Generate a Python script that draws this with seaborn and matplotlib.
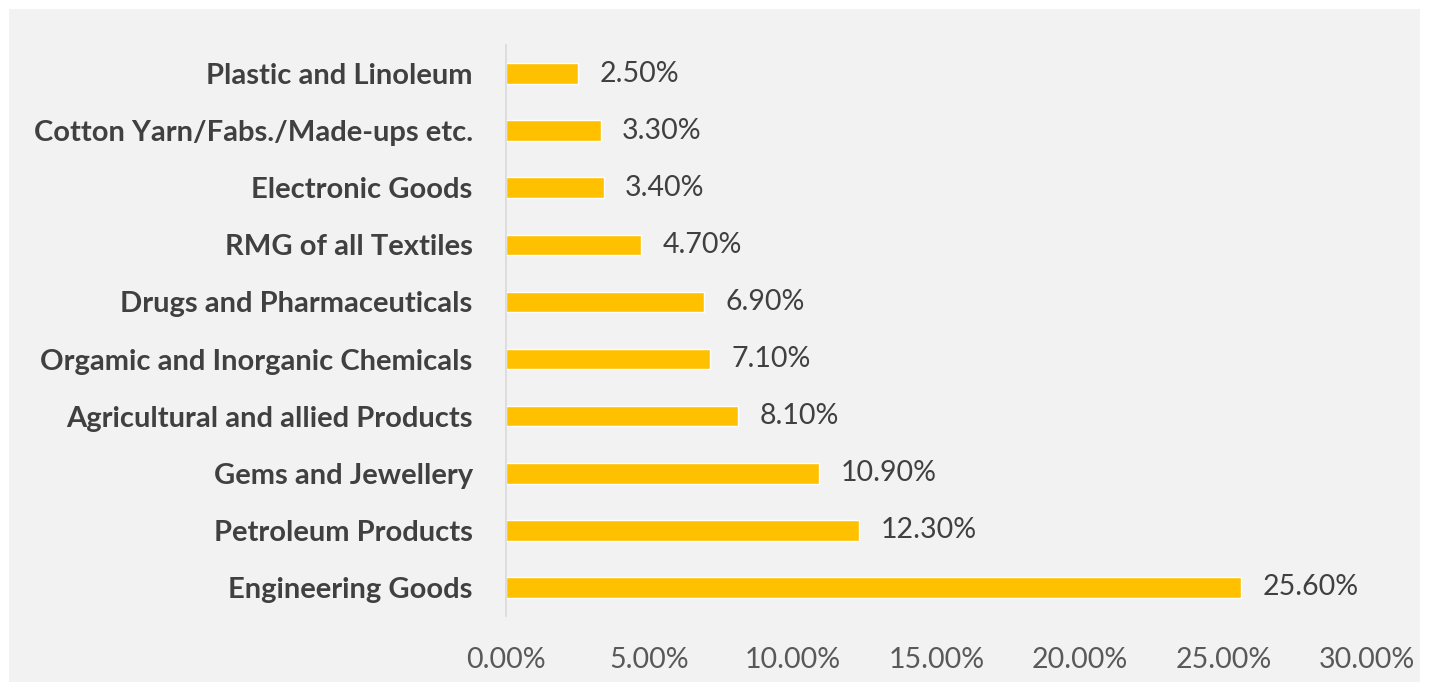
import matplotlib
matplotlib.use("Agg")
import matplotlib.pyplot as plt
import seaborn as sns
import pandas as pd
from matplotlib.patches import Rectangle

categories = [
    "Engineering Goods",
    "Petroleum Products",
    "Gems and Jewellery",
    "Agricultural and allied Products",
    "Orgamic and Inorganic Chemicals",
    "Drugs and Pharmaceuticals",
    "RMG of all Textiles",
    "Electronic Goods",
    "Cotton Yarn/Fabs./Made-ups etc.",
    "Plastic and Linoleum",
]
values = [25.6, 12.3, 10.9, 8.1, 7.1, 6.9, 4.7, 3.4, 3.3, 2.5]
xticks = [0, 5, 10, 15, 20, 25, 30]

sns.set_theme(style="white")
plt.rcParams["font.family"] = ["Lato", "DejaVu Sans"]

W, H = 1433, 682
fig = plt.figure(figsize=(W / 100, H / 100), dpi=100)
fig.patch.set_facecolor("white")
bg = Rectangle((9 / W, 0), (1420 - 9) / W, (H - 9) / H,
               transform=fig.transFigure, facecolor="#F2F2F2",
               edgecolor="none", zorder=-10)
fig.patches.append(bg)

ax = fig.add_axes([506 / W, 1 - 616 / H, (1367 - 506) / W, (616 - 45) / H])
ax.set_facecolor("none")
ax.set_zorder(5)

df = pd.DataFrame({"cat": categories, "val": values})
top_to_bottom = categories[::-1]
sns.barplot(data=df, y="cat", x="val", order=top_to_bottom, color="#FFC000",
            saturation=1, width=0.36, ax=ax, orient="h")

ax.set_xlim(0, 30)
ax.set_ylim(9.5, -0.5)

for i, cat in enumerate(top_to_bottom):
    v = df.loc[df["cat"] == cat, "val"].values[0]
    ax.text(v + 0.75, i, f"{v:.2f}%", va="center", ha="left",
            fontsize=20.5, color="#404040")

ax.set_xticks(xticks)
ax.set_xticklabels([f"{t:.2f}%" for t in xticks], fontsize=20.5, color="#595959")
ax.tick_params(axis="x", length=0, pad=22)
ax.tick_params(axis="y", length=0, pad=24)
for lab in ax.get_yticklabels():
    lab.set_fontweight("bold")
    lab.set_fontsize(21)
    lab.set_color("#404040")
ax.set_xlabel("")
ax.set_ylabel("")
for s in ["top", "right", "bottom"]:
    ax.spines[s].set_visible(False)
ax.spines["left"].set_color("#D9D9D9")
ax.spines["left"].set_linewidth(1.2)

fig.savefig("out.png", dpi=100)
